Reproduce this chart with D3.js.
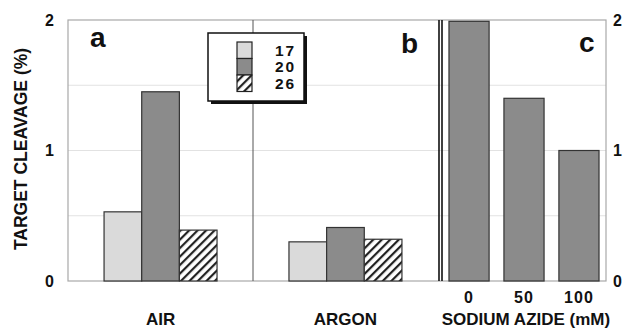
<!DOCTYPE html>
<html>
<head>
<meta charset="utf-8">
<script src="https://cdn.jsdelivr.net/npm/d3@7"></script>
<style>
  body { margin: 0; background: #fff; }
  svg { display: block; font-family: "Liberation Sans", Arial, sans-serif; font-weight: bold; }
</style>
</head>
<body>
<svg id="chart" width="626" height="328"></svg>
<script>
// values
var groups = ["AIR", "ARGON"];
var series = ["17", "20", "26"];
var airValues = [0.53, 1.45, 0.39];
var argonValues = [0.30, 0.41, 0.32];
var azideDoses = ["0", "50", "100"];
var azideValues = [1.99, 1.40, 1.00];
var yTicks = [0, 1, 2];
var gridTicks = [0.5, 1, 1.5];

var svg = d3.select("#chart");
var plotLeft = 68, plotRight = 606, plotTop = 20, plotBottom = 281;
var splitAB = 253, splitC = 439;

var y = d3.scaleLinear().domain([0, 2]).range([plotBottom, plotTop]);

// group scale for panels a + b, inner scale for the three series
var x0 = d3.scaleBand().domain(groups).range([plotLeft, splitC - 1])
  .paddingInner(0.389).paddingOuter(0.195);
var x1 = d3.scaleBand().domain(series).range([0, x0.bandwidth()]).padding(0);
// panel c
var xc = d3.scaleBand().domain(azideDoses).range([splitC + 3, plotRight])
  .paddingInner(0.27).paddingOuter(0.127);

var fills = { "17": "#dadada", "20": "#8b8b8b", "26": "url(#hatch)" };

// hatch pattern
var defs = svg.append("defs");
var pat = defs.append("pattern").attr("id", "hatch")
  .attr("patternUnits", "userSpaceOnUse")
  .attr("width", 6).attr("height", 6)
  .attr("patternTransform", "rotate(45)");
pat.append("rect").attr("width", 6).attr("height", 6).attr("fill", "#fff");
pat.append("rect").attr("x", 0).attr("width", 2.2).attr("height", 6).attr("fill", "#222");

// gridlines
svg.append("g").selectAll("line")
  .data(gridTicks).enter().append("line")
  .attr("x1", plotLeft).attr("x2", plotRight)
  .attr("y1", function(d){ return y(d); })
  .attr("y2", function(d){ return y(d); })
  .attr("stroke", "#e2e2e2").attr("stroke-width", 1);

// frame
svg.append("rect")
  .attr("x", plotLeft).attr("y", plotTop)
  .attr("width", plotRight - plotLeft).attr("height", plotBottom - plotTop)
  .attr("fill", "none").attr("stroke", "#a8a8a8").attr("stroke-width", 1.2);

// panel dividers
svg.append("line").attr("x1", splitAB).attr("x2", splitAB)
  .attr("y1", plotTop).attr("y2", plotBottom)
  .attr("stroke", "#555").attr("stroke-width", 1);
svg.append("line").attr("x1", splitC).attr("x2", splitC)
  .attr("y1", plotTop).attr("y2", plotBottom)
  .attr("stroke", "#111").attr("stroke-width", 1.6);
svg.append("line").attr("x1", splitC + 3).attr("x2", splitC + 3)
  .attr("y1", plotTop).attr("y2", plotBottom)
  .attr("stroke", "#111").attr("stroke-width", 1.6);

// bars a + b
var groupData = [airValues, argonValues];
var gGroups = svg.append("g").selectAll("g")
  .data(groups).enter().append("g")
  .attr("transform", function(d){ return "translate(" + x0(d) + ",0)"; });

gGroups.selectAll("rect")
  .data(function(d, i){
    return series.map(function(s, j){ return { key: s, value: groupData[i][j] }; });
  })
  .enter().append("rect")
  .attr("x", function(d){ return x1(d.key); })
  .attr("y", function(d){ return y(d.value); })
  .attr("width", x1.bandwidth())
  .attr("height", function(d){ return plotBottom - y(d.value); })
  .attr("fill", function(d){ return fills[d.key]; })
  .attr("stroke", "#333").attr("stroke-width", 1.2);

// bars c
svg.append("g").selectAll("rect")
  .data(azideValues).enter().append("rect")
  .attr("x", function(d, i){ return xc(azideDoses[i]); })
  .attr("y", function(d){ return y(d); })
  .attr("width", xc.bandwidth())
  .attr("height", function(d){ return plotBottom - y(d); })
  .attr("fill", fills["20"])
  .attr("stroke", "#333").attr("stroke-width", 1.2);

// y axes, left and right
var yAxisL = d3.axisLeft(y).tickValues(yTicks).tickSize(0).tickPadding(14).tickFormat(d3.format("d"));
var yAxisR = d3.axisRight(y).tickValues(yTicks).tickSize(0).tickPadding(7).tickFormat(d3.format("d"));
[svg.append("g").attr("transform", "translate(" + plotLeft + ",0)").call(yAxisL),
 svg.append("g").attr("transform", "translate(" + plotRight + ",0)").call(yAxisR)]
  .forEach(function(g){
    g.select(".domain").remove();
    g.selectAll("text").attr("font-size", 16).attr("font-weight", "bold")
      .attr("fill", "#111").attr("font-family", "Liberation Sans, Arial, sans-serif");
  });

// x labels
var xAxisC = d3.axisBottom(xc).tickSize(0).tickPadding(11);
var gx = svg.append("g").attr("transform", "translate(0," + plotBottom + ")").call(xAxisC);
gx.select(".domain").remove();
gx.selectAll("text").attr("font-size", 16).attr("font-weight", "bold")
  .attr("letter-spacing", 1)
  .attr("fill", "#111").attr("font-family", "Liberation Sans, Arial, sans-serif");

svg.append("g").selectAll("text")
  .data(groups).enter().append("text")
  .attr("x", function(d){ return x0(d) + x0.bandwidth() / 2; })
  .attr("y", 325)
  .attr("text-anchor", "middle")
  .attr("font-size", 17).attr("fill", "#111")
  .text(function(d){ return d; });

svg.append("text")
  .attr("x", (xc.range()[0] + xc.range()[1]) / 2 + 2)
  .attr("y", 325)
  .attr("text-anchor", "middle")
  .attr("font-size", 17).attr("fill", "#111")
  .text("SODIUM AZIDE (mM)");

// y title
svg.append("text")
  .attr("transform", "translate(27,149) rotate(-90)")
  .attr("text-anchor", "middle")
  .attr("font-size", 17.5).attr("fill", "#111")
  .text("TARGET CLEAVAGE (%)");

// panel letters
svg.append("text").attr("x", 90).attr("y", 47).attr("font-size", 28).attr("fill", "#111").text("a");
svg.append("text").attr("x", 401).attr("y", 53).attr("font-size", 28).attr("fill", "#111").text("b");
svg.append("text").attr("x", 579).attr("y", 52).attr("font-size", 28).attr("fill", "#111").text("c");

// legend
var legend = svg.append("g").attr("transform", "translate(208,33)");
legend.append("rect").attr("x", 3).attr("y", 3).attr("width", 96).attr("height", 68).attr("fill", "#111");
legend.append("rect").attr("width", 96).attr("height", 68)
  .attr("fill", "#fff").attr("stroke", "#111").attr("stroke-width", 1.5);
var rows = legend.selectAll("g.item").data(series).enter().append("g")
  .attr("class", "item")
  .attr("transform", function(d, i){ return "translate(0," + (9 + i * 16.5) + ")"; });
rows.append("rect").attr("x", 29).attr("width", 15).attr("height", 16.5)
  .attr("fill", function(d){ return fills[d]; })
  .attr("stroke", "#222").attr("stroke-width", 1.2);
rows.append("text").attr("x", 67).attr("y", 13.5)
  .attr("font-size", 15.5).attr("letter-spacing", 2).attr("fill", "#111")
  .text(function(d){ return d; });
</script>
</body>
</html>
